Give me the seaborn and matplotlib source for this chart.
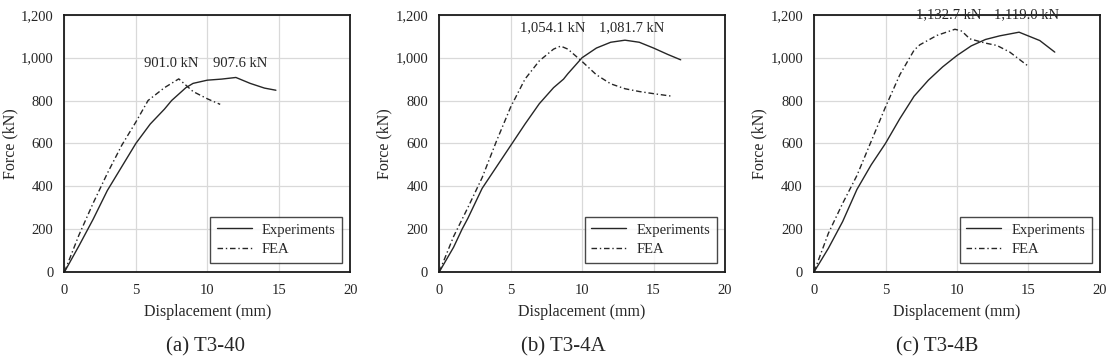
import numpy as np
import pandas as pd
import matplotlib
matplotlib.use("Agg")
import matplotlib.pyplot as plt
import seaborn as sns

# Dados
exp_a_x = [0, 1, 2, 3, 4, 5, 6, 7, 7.5, 8, 8.5, 9, 10, 11, 12, 13, 14, 14.8]
exp_a_y = [0, 120, 245, 380, 490, 600, 690, 760, 800, 830, 860, 880, 895, 900, 907.6, 880, 858, 848]
fea_a_x = [0, 1, 2, 3, 4, 5, 5.85, 7, 8, 9, 10, 10.9]
fea_a_y = [0, 170, 320, 460, 590, 700, 800, 860, 901.0, 842, 808, 782]

exp_b_x = [0, 1, 1.6, 2, 3, 4, 5, 6, 7, 8, 8.7, 9, 10, 11, 12, 13, 14, 15, 16, 16.9]
exp_b_y = [0, 115, 200, 250, 390, 490, 590, 690, 785, 860, 900, 925, 1000, 1045, 1072, 1081.7, 1072, 1045, 1015, 990]
fea_b_x = [0, 1, 2, 3, 4, 5, 6, 7, 8, 8.5, 9, 10, 11, 12, 13, 14, 15, 16.3]
fea_b_y = [0, 165, 300, 440, 610, 770, 900, 985, 1040, 1054.1, 1040, 982, 920, 878, 855, 842, 832, 820]

exp_c_x = [0, 1, 2, 3, 4, 5, 6, 7, 8, 9, 10, 11, 12, 13, 14.35, 15.8, 16.85]
exp_c_y = [0, 110, 235, 385, 500, 600, 715, 820, 895, 957, 1010, 1055, 1085, 1102, 1119.0, 1080, 1026]
fea_c_x = [0, 1, 2, 3, 4, 5, 6, 7, 7.4, 8.6, 9.86, 10.3, 10.56, 10.9, 12, 12.8, 13.7, 15]
fea_c_y = [0, 180, 320, 450, 610, 770, 920, 1035, 1060, 1104, 1132.7, 1125, 1110, 1088, 1068, 1057, 1026, 960]

paineis = ['(a) T3-40', '(b) T3-4A', '(c) T3-4B']
rotulos = [('901.0 kN', '907.6 kN'), ('1,054.1 kN', '1,081.7 kN'), ('1,132.7 kN', '1,119.0 kN')]
rot_pos = [((7.5, 971), (12.3, 971)), ((7.95, 1138), (13.5, 1138)), ((9.4, 1200), (14.9, 1200))]
caption_x = [205, 563, 937]

sns.set_style('white')
plt.rcParams['font.family'] = ['Liberation Serif', 'DejaVu Serif']
plt.rcParams['font.size'] = 10.5

dados = [(exp_a_x, exp_a_y, fea_a_x, fea_a_y),
         (exp_b_x, exp_b_y, fea_b_x, fea_b_y),
         (exp_c_x, exp_c_y, fea_c_x, fea_c_y)]

fig, axes = plt.subplots(1, 3, figsize=(11.12, 3.62), dpi=100)
fig.subplots_adjust(left=0.058, right=0.989, top=0.959, bottom=0.249, wspace=0.312)

for i, ax in enumerate(axes):
    ex, ey, fx, fy = dados[i]
    df_exp = pd.DataFrame({'x': ex, 'y': ey})
    df_fea = pd.DataFrame({'x': fx, 'y': fy})
    sns.lineplot(data=df_exp, x='x', y='y', ax=ax, color='#262626', lw=1.0,
                 sort=False, label='Experiments')
    sns.lineplot(data=df_fea, x='x', y='y', ax=ax, color='#262626', lw=1.0,
                 linestyle=(0, (4, 2, 1, 2)), sort=False, label='FEA')
    ax.set_xlim(0, 20)
    ax.set_ylim(0, 1200)
    ax.set_xticks([0, 5, 10, 15, 20])
    ax.set_yticks(range(0, 1201, 200))
    ax.set_yticklabels([f'{v:,}' for v in range(0, 1201, 200)])
    ax.grid(True, color='#d9d9d9', lw=0.9)
    ax.set_axisbelow(True)
    for s in ax.spines.values():
        s.set_color('#1a1a1a')
        s.set_linewidth(1.3)
    ax.tick_params(axis='x', length=0, pad=9, labelsize=10.5)
    ax.tick_params(axis='y', length=0, pad=8, labelsize=10.5)
    ax.set_xlabel('Displacement (mm)', labelpad=5, fontsize=11.5)
    ax.set_ylabel('Force (kN)', fontsize=11.5)
    ax.yaxis.set_label_coords(-0.163, 0.5)
    leg = ax.legend(loc='lower right', frameon=True, fancybox=False,
                    edgecolor='#1a1a1a', handlelength=2.4, handletextpad=0.7,
                    borderpad=0.45, labelspacing=0.45, borderaxespad=0,
                    bbox_to_anchor=(0.972, 0.035), fontsize=10.5)
    leg.get_frame().set_linewidth(1.0)
    for txt, (px, py) in zip(rotulos[i], rot_pos[i]):
        ax.text(px, py, txt, ha='center', va='center', fontsize=10.5)
    fig.text(caption_x[i] / 1112, 1 - 347 / 362, paineis[i], ha='center',
             va='center', fontsize=15)

plt.savefig('out.png', dpi=100)
